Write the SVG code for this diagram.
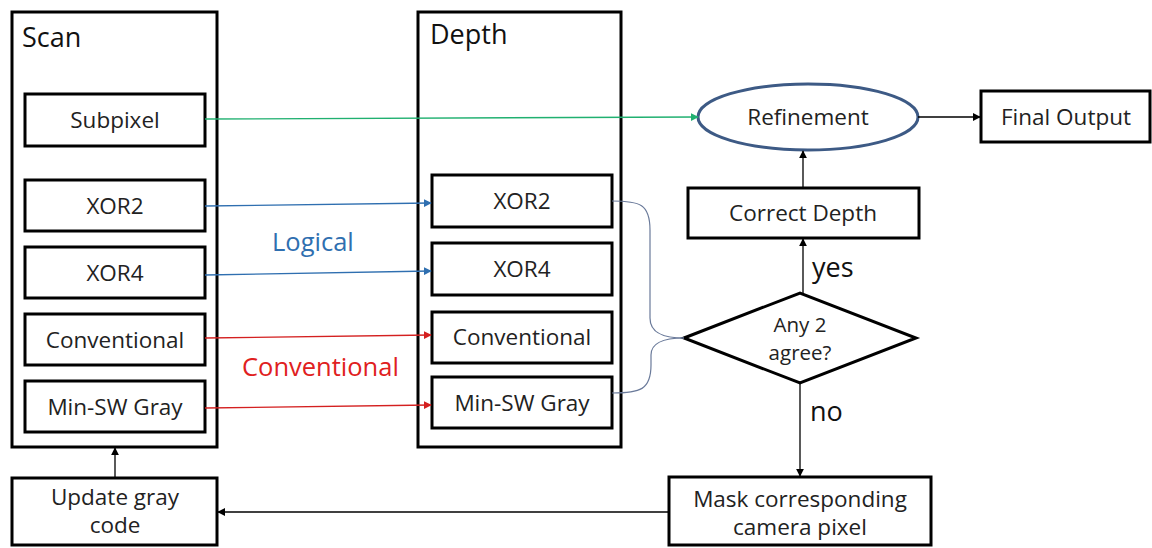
<svg xmlns="http://www.w3.org/2000/svg" width="1152" height="548" viewBox="0 0 1152 548">
<defs>
<style>
.box{fill:#fff;stroke:#000;stroke-width:3}
.t{font-family:"Open Sans","Liberation Sans",sans-serif;font-size:22.5px;fill:#222;text-anchor:middle}
.d{font-size:20.5px}
.h{font-family:"Open Sans","Liberation Sans",sans-serif;font-size:27px;fill:#111}
.m{font-family:"Open Sans","Liberation Sans",sans-serif;font-size:25.5px}
.k{fill:none;stroke:#000;stroke-width:1.3}
</style>
<marker id="ak" viewBox="0 0 10 10" refX="9" refY="5" markerWidth="8" markerHeight="8" orient="auto" markerUnits="userSpaceOnUse"><path d="M0,0L10,5L0,10z" fill="#000"/></marker>
<marker id="ab" viewBox="0 0 10 10" refX="9" refY="5" markerWidth="8" markerHeight="8" orient="auto" markerUnits="userSpaceOnUse"><path d="M0,0L10,5L0,10z" fill="#2f6fb0"/></marker>
<marker id="ar" viewBox="0 0 10 10" refX="9" refY="5" markerWidth="8" markerHeight="8" orient="auto" markerUnits="userSpaceOnUse"><path d="M0,0L10,5L0,10z" fill="#d42020"/></marker>
<marker id="ag" viewBox="0 0 10 10" refX="9" refY="5" markerWidth="8" markerHeight="8" orient="auto" markerUnits="userSpaceOnUse"><path d="M0,0L10,5L0,10z" fill="#20b070"/></marker>
</defs>
<rect width="1152" height="548" fill="#fff"/>
<g id="scan">
<rect class="box" x="12" y="12" width="205" height="435"/>
<text class="h" x="22" y="47">Scan</text>
</g>
<g id="scan-subpixel"><rect class="box" x="25" y="94" width="180" height="52"/><text class="t" x="115" y="128">Subpixel</text></g>
<g id="scan-xor2"><rect class="box" x="25" y="180" width="180" height="51"/><text class="t" x="115" y="214">XOR2</text></g>
<g id="scan-xor4"><rect class="box" x="25" y="247" width="180" height="51"/><text class="t" x="115" y="281">XOR4</text></g>
<g id="scan-conv"><rect class="box" x="25" y="314" width="180" height="51"/><text class="t" x="115" y="348">Conventional</text></g>
<g id="scan-minsw"><rect class="box" x="25" y="381" width="180" height="51"/><text class="t" x="115" y="415">Min-SW Gray</text></g>
<g id="depth">
<rect class="box" x="418" y="12" width="203" height="435"/>
<text class="h" x="430" y="44">Depth</text>
</g>
<g id="depth-xor2"><rect class="box" x="432" y="175" width="180" height="52"/><text class="t" x="522" y="209">XOR2</text></g>
<g id="depth-xor4"><rect class="box" x="432" y="243" width="180" height="52"/><text class="t" x="522" y="277">XOR4</text></g>
<g id="depth-conv"><rect class="box" x="432" y="312" width="180" height="51"/><text class="t" x="522" y="345">Conventional</text></g>
<g id="depth-minsw"><rect class="box" x="432" y="377" width="180" height="51"/><text class="t" x="522" y="411">Min-SW Gray</text></g>
<g id="refinement"><ellipse cx="808" cy="117" rx="110" ry="33" fill="#fff" stroke="#3d5a85" stroke-width="3"/><text class="t" x="808" y="125">Refinement</text></g>
<g id="final"><rect class="box" x="981" y="91" width="169" height="51"/><text class="t" x="1066" y="125">Final Output</text></g>
<g id="correct"><rect class="box" x="688" y="188" width="231" height="50"/><text class="t" x="803" y="221">Correct Depth</text></g>
<g id="decision"><polygon points="684,338 800,293 916,338 800,383" fill="#fff" stroke="#000" stroke-width="3"/><text class="t d" x="800" y="332">Any 2</text><text class="t d" x="800" y="360">agree?</text></g>
<g id="mask"><rect class="box" x="669" y="477" width="262" height="68"/><text class="t" x="800" y="507">Mask corresponding</text><text class="t" x="800" y="535">camera pixel</text></g>
<g id="update"><rect class="box" x="12" y="478" width="205" height="67"/><text class="t" x="115" y="505">Update gray</text><text class="t" x="115" y="533">code</text></g>
<g id="connectors">
<line x1="205" y1="119" x2="698" y2="117" stroke="#20b070" stroke-width="1.3" marker-end="url(#ag)"/>
<line x1="205" y1="206" x2="431" y2="203" stroke="#2f6fb0" stroke-width="1.3" marker-end="url(#ab)"/>
<line x1="205" y1="275" x2="431" y2="271" stroke="#2f6fb0" stroke-width="1.3" marker-end="url(#ab)"/>
<line x1="205" y1="338" x2="431" y2="335" stroke="#d42020" stroke-width="1.3" marker-end="url(#ar)"/>
<line x1="205" y1="408" x2="431" y2="405" stroke="#d42020" stroke-width="1.3" marker-end="url(#ar)"/>
<path d="M612,201 C640,201 650,204 650,230 L650,318 C650,334 665,338 684,338" fill="none" stroke="#6a7a9a" stroke-width="1.2"/>
<path d="M612,393 C640,393 651,390 651,365 L651,355 C651,342 665,338 684,338" fill="none" stroke="#6a7a9a" stroke-width="1.2"/>
<line class="k" x1="918" y1="117" x2="980" y2="117" marker-end="url(#ak)"/>
<line class="k" x1="803" y1="188" x2="803" y2="151" marker-end="url(#ak)"/>
<line class="k" x1="803" y1="293" x2="803" y2="239" marker-end="url(#ak)"/>
<line class="k" x1="800" y1="383" x2="800" y2="476" marker-end="url(#ak)"/>
<line class="k" x1="669" y1="512" x2="218" y2="512" marker-end="url(#ak)"/>
<line class="k" x1="115" y1="478" x2="115" y2="448" marker-end="url(#ak)"/>
<text class="m" x="272" y="251" style="fill:#2f6fb0">Logical</text>
<text class="m" x="242" y="376" style="fill:#e02020">Conventional</text>
<text class="h" x="812" y="277">yes</text>
<text class="h" x="810" y="421">no</text>
</g>
</svg>
